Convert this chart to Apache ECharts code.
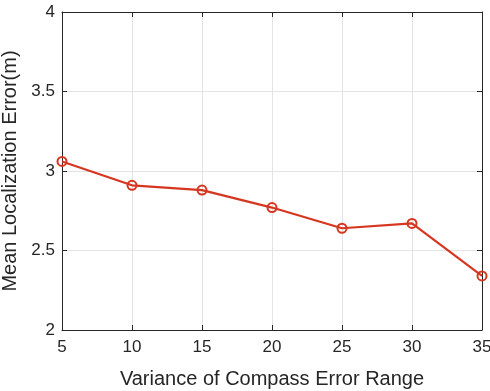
<!DOCTYPE html>
<html><head><meta charset="utf-8">
<script src="https://cdn.jsdelivr.net/npm/echarts@6/dist/echarts.min.js"></script>
<style>html,body{margin:0;padding:0;background:#fff}#c{width:490px;height:391px}</style>
</head><body><div id="c"></div>
<script>
const xValues = [5, 10, 15, 20, 25, 30, 35];
const yValues = [3.06, 2.91, 2.88, 2.77, 2.64, 2.67, 2.34];
const xTitle = 'Variance of Compass Error Range';
const yTitle = 'Mean Localization Error(m)';
const font = 'Liberation Sans, Arial, Helvetica, sans-serif';
const axisColor = '#262626';
const chart = echarts.init(document.getElementById('c'));
const baseX = {
  type: 'value', min: 5, max: 35, interval: 5,
  axisLine: {show: true, lineStyle: {color: axisColor, width: 1}},
  axisTick: {show: true, inside: true, length: 5, lineStyle: {color: axisColor}},
  splitLine: {show: false}
};
const baseY = {
  type: 'value', min: 2, max: 4, interval: 0.5,
  axisLine: {show: true, lineStyle: {color: axisColor, width: 1}},
  axisTick: {show: true, inside: true, length: 5, lineStyle: {color: axisColor}},
  splitLine: {show: false}
};
chart.setOption({
  backgroundColor: '#fff',
  animation: false,
  grid: {left: 62, right: 8, top: 12, bottom: 61, containLabel: false, outerBoundsMode: 'none'},
  xAxis: [
    Object.assign({}, baseX, {
      position: 'bottom',
      name: xTitle, nameLocation: 'middle', nameGap: 39,
      nameTextStyle: {fontFamily: font, fontSize: 20, color: axisColor},
      axisLabel: {fontFamily: font, fontSize: 17, color: axisColor, margin: 9},
      splitLine: {show: true, lineStyle: {color: '#e3e3e3', width: 1}}
    }),
    Object.assign({}, baseX, {position: 'top', axisLabel: {show: false}})
  ],
  yAxis: [
    Object.assign({}, baseY, {
      position: 'left',
      name: yTitle, nameLocation: 'middle', nameGap: 36,
      nameTextStyle: {fontFamily: font, fontSize: 20, color: axisColor},
      axisLabel: {fontFamily: font, fontSize: 17, color: axisColor, margin: 7,
        formatter: v => String(v)},
      splitLine: {show: true, lineStyle: {color: '#e3e3e3', width: 1}}
    }),
    Object.assign({}, baseY, {position: 'right', axisLabel: {show: false}})
  ],
  series: [{
    type: 'line',
    data: xValues.map((x, i) => [x, yValues[i]]),
    symbol: 'circle', symbolSize: 9,
    lineStyle: {color: '#D6361F', width: 2.2},
    itemStyle: {color: 'rgba(0,0,0,0)', borderColor: '#D6361F', borderWidth: 2},
    clip: false
  }]
});
</script></body></html>
